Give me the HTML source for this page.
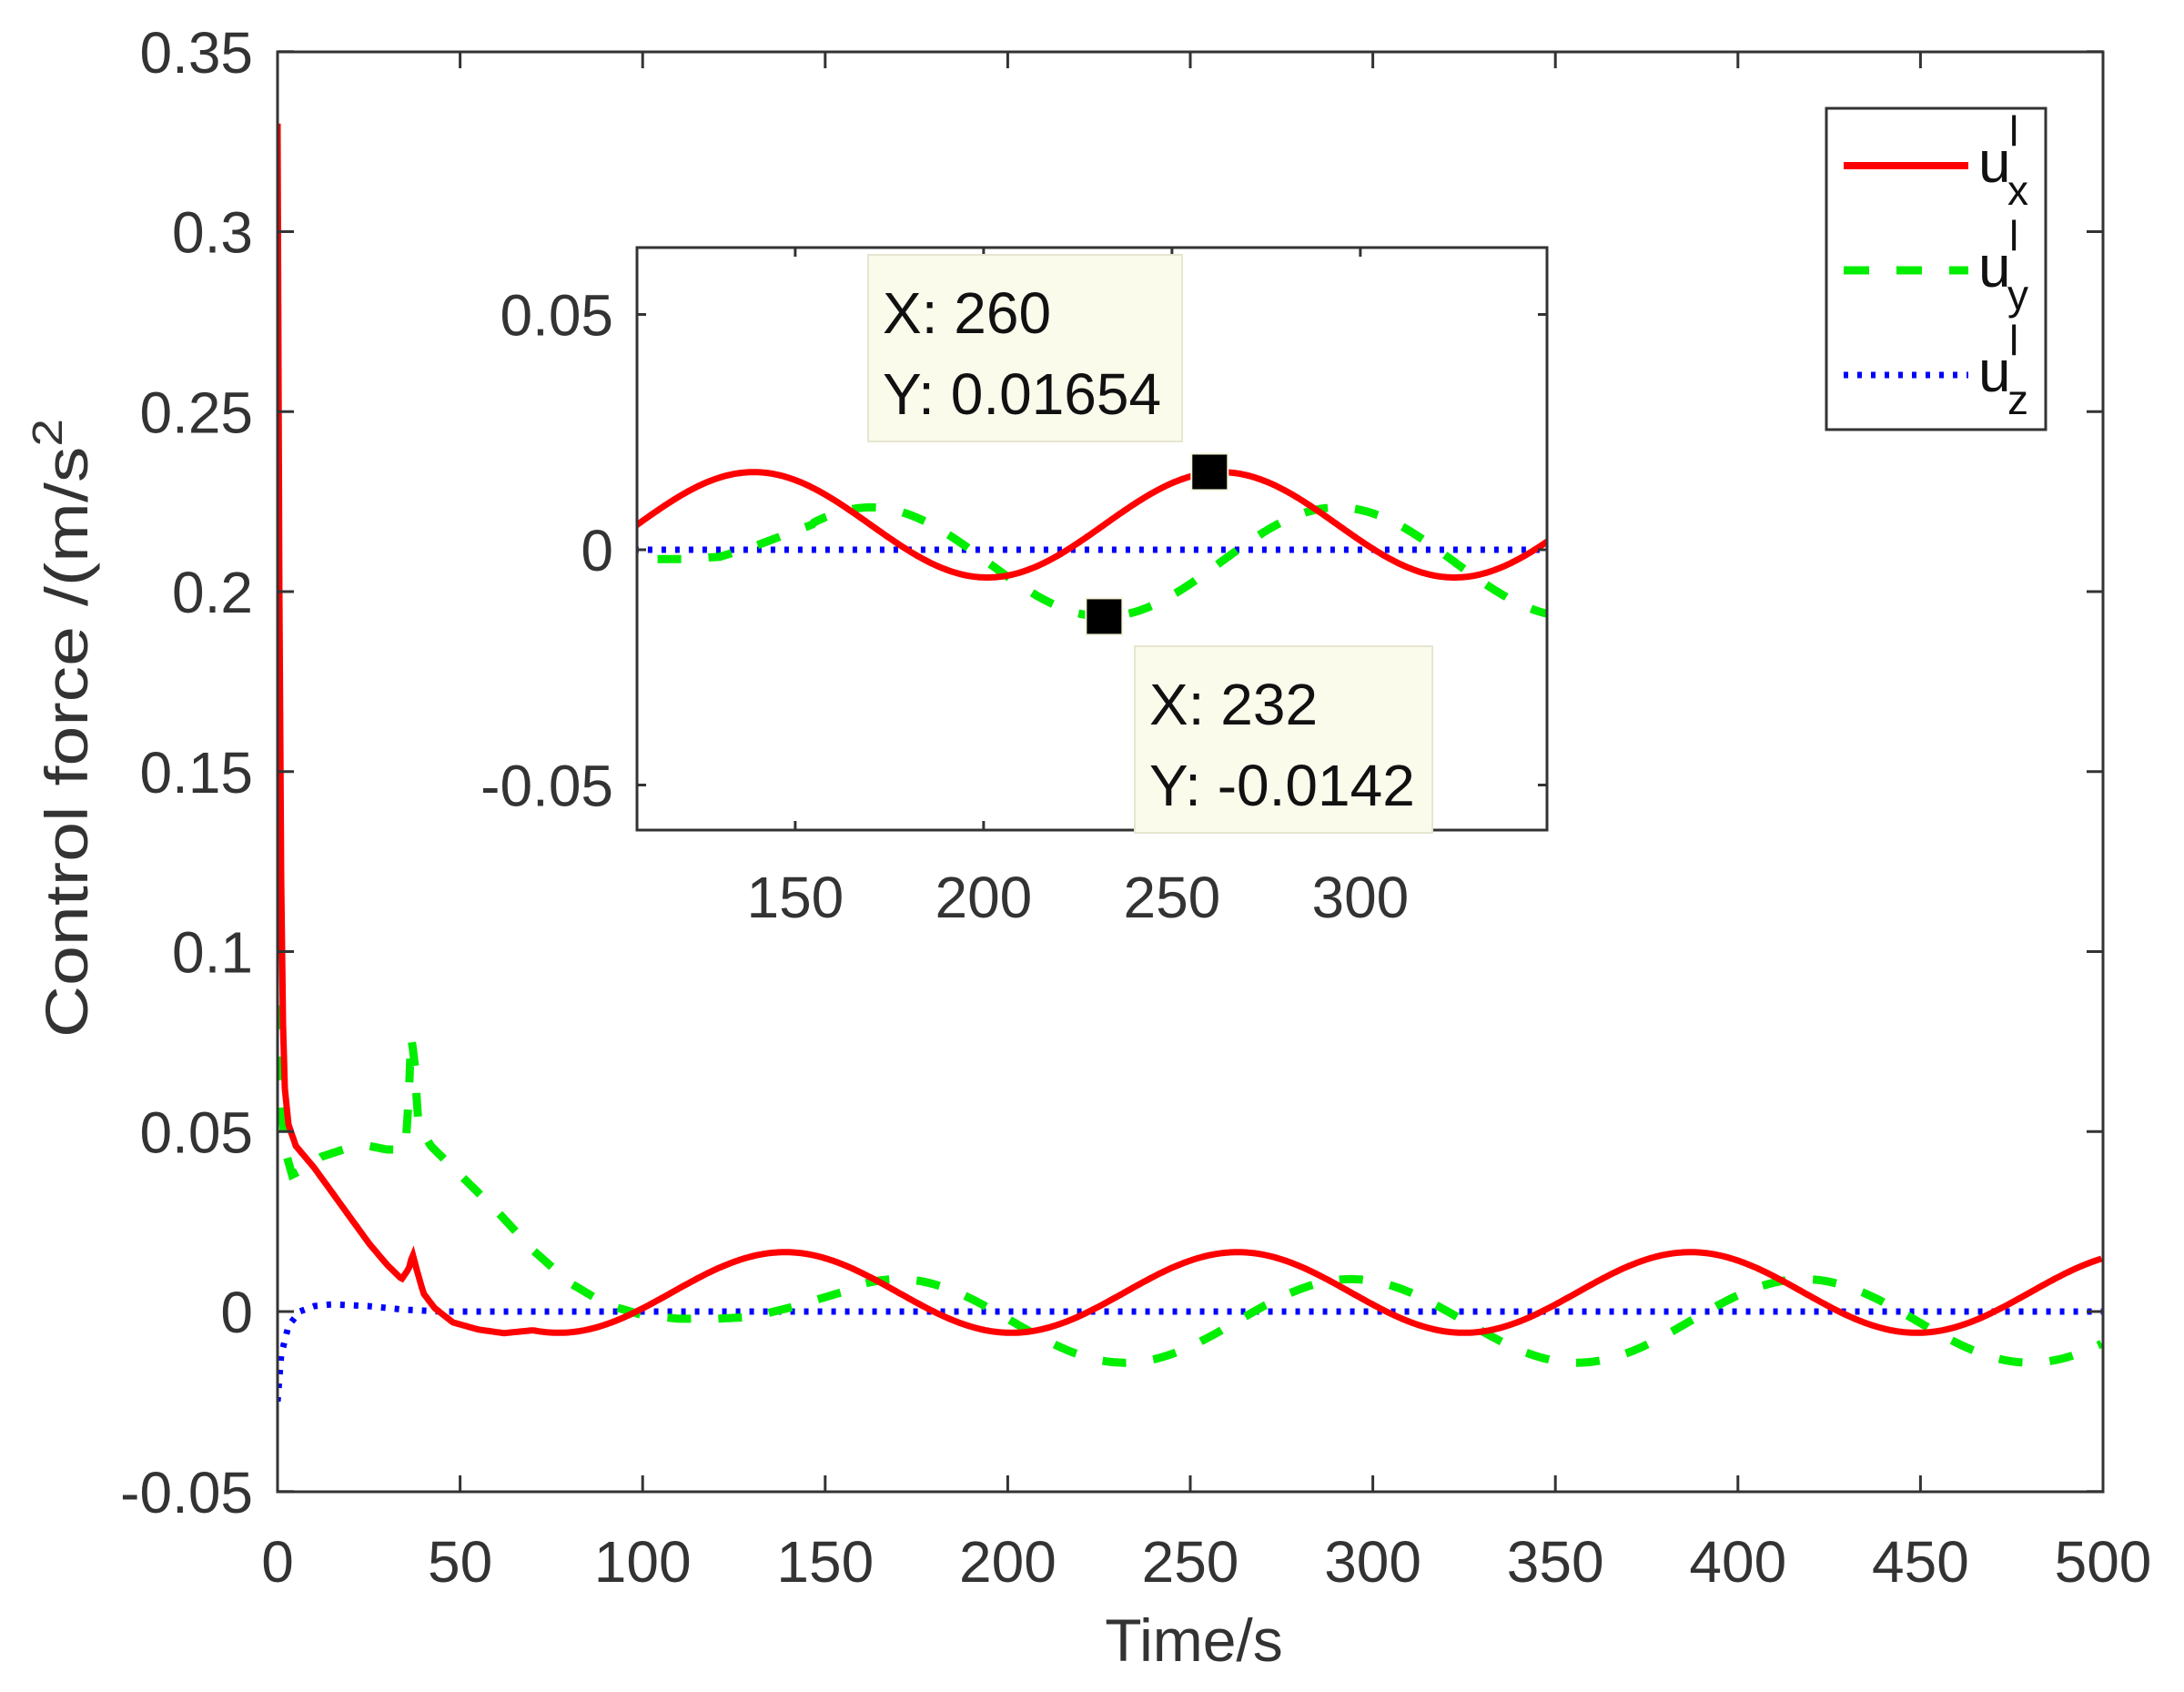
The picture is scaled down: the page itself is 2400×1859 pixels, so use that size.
<!DOCTYPE html>
<html><head><meta charset="utf-8"><style>
html,body{margin:0;padding:0;background:#fff;}
svg{display:block;font-family:"Liberation Sans",Arial,sans-serif;}
</style></head><body>
<svg id="s" width="2400" height="1859" viewBox="0 0 2400 1859" xmlns="http://www.w3.org/2000/svg">
<defs>
<clipPath id="cm"><rect x="305" y="57" width="2006" height="1582"/></clipPath>
<clipPath id="ci"><rect x="700" y="272" width="1000" height="640"/></clipPath>
</defs>
<rect width="2400" height="1859" fill="#fff"/>
<g id="main" clip-path="url(#cm)"></g>
<g stroke="#333" stroke-width="3" fill="none">
<rect x="305" y="57" width="2006" height="1582"/>
<g id="mticks"></g>
</g>
<g id="mlabels" fill="#333" font-size="64"></g>
<text x="1312" y="1825" font-size="66" fill="#333" text-anchor="middle">Time/s</text>
<text transform="translate(96,800) rotate(-90)" font-size="66" fill="#333" text-anchor="middle" textLength="680" lengthAdjust="spacingAndGlyphs">Control force /(m/s<tspan dy="-28" font-size="46">2</tspan></text>
<!-- inset -->
<rect x="700" y="272" width="1000" height="640" fill="#fff" stroke="none"/>
<g id="inset" clip-path="url(#ci)"></g>
<g stroke="#333" stroke-width="3" fill="none">
<rect x="700" y="272" width="1000" height="640"/>
<g id="iticks"></g>
</g>
<g id="ilabels" fill="#333" font-size="64"></g>
<!-- datatips -->
<rect x="954" y="280" width="345" height="205" fill="#fbfbec" stroke="#e6e6d0" stroke-width="2"/>
<text x="970" y="366" font-size="64" fill="#111">X: 260</text>
<text x="970" y="455" font-size="64" fill="#111">Y: 0.01654</text>
<rect x="1247" y="710" width="327" height="205" fill="#fbfbec" stroke="#e6e6d0" stroke-width="2"/>
<text x="1263" y="796" font-size="64" fill="#111">X: 232</text>
<text x="1263" y="885" font-size="64" fill="#111">Y: -0.0142</text>
<g id="marks"></g>
<!-- legend -->
<rect x="2007" y="119" width="241" height="353" fill="#fff" stroke="#333" stroke-width="3"/>
<line x1="2026" y1="182" x2="2163" y2="182" stroke="#ff0000" stroke-width="8"/>
<line x1="2026" y1="297" x2="2163" y2="297" stroke="#00ee00" stroke-width="9" stroke-dasharray="28,30"/>
<line x1="2026" y1="412" x2="2163" y2="412" stroke="#0000ff" stroke-width="7" stroke-dasharray="5,10"/>
<g font-size="64" fill="#111">
<text x="2174" y="200">u</text><text x="2208" y="160" font-size="46">l</text><text x="2206" y="225" font-size="46">x</text>
<text x="2174" y="315">u</text><text x="2208" y="275" font-size="46">l</text><text x="2206" y="340" font-size="46">y</text>
<text x="2174" y="430">u</text><text x="2208" y="390" font-size="46">l</text><text x="2206" y="455" font-size="46">z</text>
</g>
</svg>
<script>
var NS="http://www.w3.org/2000/svg";
function el(p,tag,a,txt){var e=document.createElementNS(NS,tag);for(var k in a)e.setAttribute(k,a[k]);if(txt!=null)e.textContent=txt;document.getElementById(p).appendChild(e);return e;}
function interp(pts,t){for(var i=0;i<pts.length-1;i++){if(t>=pts[i][0]&&t<=pts[i+1][0]){var f=(t-pts[i][0])/(pts[i+1][0]-pts[i][0]);return pts[i][1]+f*(pts[i+1][1]-pts[i][1]);}}return pts[pts.length-1][1];}
var pux=[[0,0.33],[0.5,0.2],[1,0.12],[1.5,0.08],[2,0.062],[3,0.052],[5,0.046],[10,0.04],[15,0.033],[20,0.026],[25,0.019],[30,0.013],[34,0.009],[36,0.012],[37,0.016],[38,0.012],[40,0.005],[43,0.001],[48,-0.003],[55,-0.005],[62,-0.006],[70,-0.0052]];
var puy=[[0,0.085],[1,0.06],[2,0.045],[4,0.038],[8,0.04],[12,0.043],[18,0.045],[25,0.046],[30,0.045],[35,0.045],[36,0.06],[36.5,0.077],[37.5,0.07],[38.5,0.052],[42,0.046],[50,0.038],[60,0.028],[70,0.017],[80,0.008],[90,0.002],[100,-0.001],[110,-0.002],[120,-0.002],[130,-0.0015],[140,0.001],[150,0.004],[155,0.0055]];
var puz=[[0,-0.025],[1,-0.012],[3,-0.004],[6,0],[10,0.0015],[15,0.002],[25,0.0015],[35,0.0005],[45,0]];
function ux(t){return t<70?interp(pux,t):0.0053+0.0112*Math.cos(2*Math.PI*(t-263)/124);}
function uy(t){return t<155?interp(puy,t):-0.0026-0.0116*Math.cos(2*Math.PI*(t-232)/124);}
function uz(t){return t<45?interp(puz,t):0;}
function path(f,X,Y,t0,t1){var d="";for(var t=t0;t<=t1+1e-9;t+= (t<5?0.1:0.5)){d+=(d?"L":"M")+X(t).toFixed(1)+","+Y(f(t)).toFixed(1);}return d;}
var MX=function(t){return 305+t*4.012},MY=function(v){return 1441-v*3955};
var IX=function(t){return 700+(t-108)*4.14},IY=function(v){return 604-v*5170};
[["main",MX,MY,0,500],["inset",IX,IY,100,360]].forEach(function(c){
 el(c[0],"path",{d:path(uz,c[1],c[2],c[3],c[4]),stroke:"#0000ff","stroke-width":7,fill:"none","stroke-dasharray":"5,10"});
 el(c[0],"path",{d:path(uy,c[1],c[2],c[3],c[4]),stroke:"#00ee00","stroke-width":9,fill:"none","stroke-dasharray":"26,30"});
 el(c[0],"path",{d:path(ux,c[1],c[2],c[3],c[4]),stroke:"#ff0000","stroke-width":7,fill:"none"});
});
for(var t=0;t<=500;t+=50){var x=MX(t);el("mticks","line",{x1:x,y1:1639,x2:x,y2:1621});el("mticks","line",{x1:x,y1:57,x2:x,y2:75});
 el("mlabels","text",{x:x,y:1738,"text-anchor":"middle"},String(t));}
var yl=["-0.05","0","0.05","0.1","0.15","0.2","0.25","0.3","0.35"];
for(var i=0;i<9;i++){var v=-0.05+i*0.05;var y=MY(v);el("mticks","line",{x1:305,y1:y,x2:323,y2:y});el("mticks","line",{x1:2311,y1:y,x2:2293,y2:y});
 el("mlabels","text",{x:278,y:y+23,"text-anchor":"end"},yl[i]);}
[150,200,250,300].forEach(function(t){var x=IX(t);el("iticks","line",{x1:x,y1:912,x2:x,y2:902});el("iticks","line",{x1:x,y1:272,x2:x,y2:282});
 el("ilabels","text",{x:x,y:1008,"text-anchor":"middle"},String(t));});
[[-0.05,"-0.05"],[0,"0"],[0.05,"0.05"]].forEach(function(p){var y=IY(p[0]);el("iticks","line",{x1:700,y1:y,x2:710,y2:y});el("iticks","line",{x1:1700,y1:y,x2:1690,y2:y});
 el("ilabels","text",{x:674,y:y+23,"text-anchor":"end"},p[1]);});
el("marks","rect",{x:IX(260)-20,y:IY(0.01654)-20,width:40,height:40,fill:"#000",stroke:"#f5f5dc","stroke-width":2});
el("marks","rect",{x:IX(232)-20,y:IY(-0.0142)-20,width:40,height:40,fill:"#000",stroke:"#f5f5dc","stroke-width":2});
</script>
</body></html>
